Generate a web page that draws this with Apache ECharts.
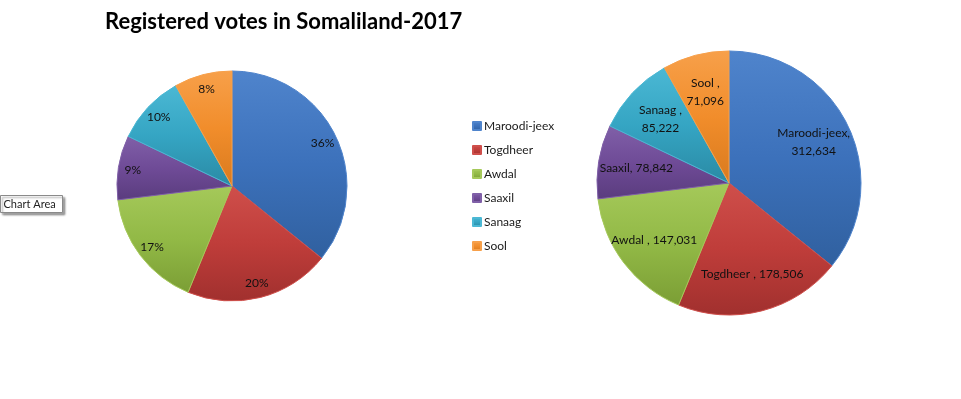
<!DOCTYPE html>
<html><head><meta charset="utf-8">
<script src="https://cdn.jsdelivr.net/npm/echarts@6/dist/echarts.min.js"></script>
<style>html,body{margin:0;padding:0;background:#fff}#c{width:961px;height:399px}</style>
</head><body><div id="c"></div>
<script>
const titleText = 'Registered votes in Somaliland-2017';
const categories = ['Maroodi-jeex', 'Togdheer ', 'Awdal ', 'Saaxil', 'Sanaag ', 'Sool '];
const votes = [312634, 178506, 147031, 78842, 85222, 71096];
const labelBreaks = [true, false, false, false, true, true];
const baseColors = ['#3c71bb', '#bf3d3a', '#92b946', '#6f4b97', '#35a5c3', '#f18d2b'];
const lightColors = ['#4f84cc', '#cf4f4b', '#a5c95a', '#8060a8', '#4bb8d4', '#f7a04a'];
const darkColors = ['#30609f', '#a1302e', '#7b9e35', '#5a3c7e', '#2a8aa4', '#d97a1e'];

function grad(i) {
  return new echarts.graphic.LinearGradient(0, 0, 0, 1, [
    { offset: 0, color: lightColors[i] },
    { offset: 0.5, color: baseColors[i] },
    { offset: 1, color: darkColors[i] }
  ]);
}
const data = categories.map((n, i) => ({
  name: n, value: votes[i],
  itemStyle: { color: grad(i), borderColor: lightColors[i], borderWidth: 1 }
}));

const L = { cx: 232, cy: 186, r: 115 };
const R = { cx: 729, cy: 183, r: 132 };
function scaleLayout(c, k) {
  return function (p) {
    const lr = p.labelRect;
    const lx = lr.x + lr.width / 2, ly = lr.y + lr.height / 2;
    return { dx: (lx - c.cx) * k, dy: (ly - c.cy) * k };
  };
}

const chart = echarts.init(document.getElementById('c'), null, { renderer: 'canvas' });
chart.setOption({
  animation: false,
  backgroundColor: '#ffffff',
  title: {
    text: titleText, left: 100, top: 6,
    textStyle: { fontFamily: 'Lato', fontWeight: 'bold', fontSize: 22, color: '#000' }
  },
  legend: {
    orient: 'vertical', left: 472, top: 119, padding: 0,
    data: categories,
    icon: 'rect', itemWidth: 8, itemHeight: 8, itemGap: 10,
    textStyle: { fontFamily: 'Lato', fontSize: 12, color: '#1a1a1a', lineHeight: 14, padding: [0, 0, 0, -2] },
    selectedMode: false
  },
  series: [
    {
      type: 'pie', center: [L.cx, L.cy], radius: L.r, startAngle: 90, clockwise: true,
      percentPrecision: 0,
      data: data,
      label: { show: true, position: 'inside', formatter: '{d}%', fontFamily: 'Lato', fontSize: 12, color: '#111' },
      labelLayout: scaleLayout(L, 0.66),
      labelLine: { show: false },
      emphasis: { disabled: true }
    },
    {
      type: 'pie', center: [R.cx, R.cy], radius: R.r, startAngle: 90, clockwise: true,
      data: data,
      label: {
        show: true, position: 'inside', fontFamily: 'Lato', fontSize: 12, color: '#111', lineHeight: 18,
        formatter: function (p) {
          return p.name + ',' + (labelBreaks[p.dataIndex] ? '\n' : ' ') + p.value.toLocaleString('en-US');
        }
      },
      labelLayout: scaleLayout(R, 0.36),
      labelLine: { show: false },
      emphasis: { disabled: true }
    }
  ],
  graphic: [
    {
      type: 'group', left: 0, top: 195,
      children: [
        { type: 'rect', shape: { x: 0, y: 0, width: 62, height: 17 },
          style: { fill: '#fff', stroke: '#8a8a8a', lineWidth: 1, shadowBlur: 2, shadowOffsetX: 2, shadowOffsetY: 2, shadowColor: 'rgba(0,0,0,0.35)' } },
        { type: 'text', x: 3, y: 3, style: { text: 'Chart Area', fontFamily: 'Lato', fontSize: 11, fill: '#222' } }
      ]
    }
  ]
});
</script></body></html>
